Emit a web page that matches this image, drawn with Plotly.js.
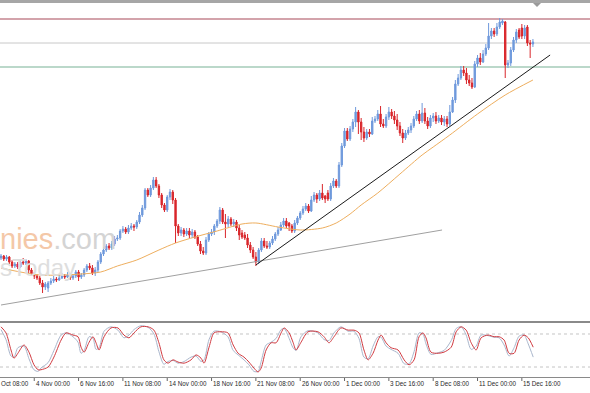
<!DOCTYPE html>
<html>
<head>
<meta charset="utf-8">
<script src="https://cdn.plot.ly/plotly-3.0.1.min.js"></script>
<style>html,body{margin:0;padding:0;background:#fff;}#chart{width:590px;height:393px;}</style>
</head>
<body>
<div id="chart"></div>
<script>
// ---- DATA (price units, one bar per 4 hours) ----
const openP  = [142,144,141,143,138,134,136,133,138,137,139,130,126,124,122,117,113,112,117,119,121,120,122,124,123,125,122,124,128,123,125,130,134,132,127,130,138,146,150,154,152,156,161,162,169,171,168,172,174,173,178,185,192,210,205,212,220,214,205,195,190,203,208,200,174,167,170,166,169,165,168,163,156,149,147,160,166,168,174,179,190,178,176,181,176,178,172,167,165,162,155,150,143,138,150,159,154,153,157,161,166,170,175,179,177,174,169,177,182,187,191,194,189,200,205,201,207,204,207,201,214,219,214,235,254,269,261,271,278,288,278,268,262,268,266,279,281,286,276,274,283,288,284,280,274,267,262,267,270,274,281,286,279,287,279,274,282,284,279,282,278,281,276,288,300,316,322,330,327,320,317,313,336,342,338,346,352,364,369,366,373,377,378,335,337,350,360,370,372,364,373,357,356];
const highP  = [146,145,145,144,140,138,138,140,142,141,140,132,128,126,124,120,118,119,122,124,123,125,127,126,128,127,126,130,130,127,132,136,137,135,133,140,148,153,156,157,159,164,165,171,174,173,175,177,176,180,188,195,212,212,215,223,223,216,207,197,205,211,210,202,176,173,172,172,172,171,170,165,159,153,163,168,171,176,181,193,192,186,184,183,181,180,175,170,168,166,158,153,148,152,162,162,159,159,164,168,173,178,182,182,178,176,180,184,189,194,197,196,204,208,207,210,216,205,210,217,222,221,238,257,272,272,274,281,293,290,282,273,271,271,283,284,290,294,281,286,293,291,289,286,278,271,270,273,277,284,289,290,297,292,283,285,287,288,285,285,284,284,295,303,320,326,334,334,332,325,322,339,345,347,350,356,377,372,372,377,382,381,379,340,353,363,371,372,376,375,375,360,361];
const lowP   = [140,139,139,136,132,132,131,132,135,135,127,124,121,120,115,107,110,108,115,117,118,119,121,121,122,120,120,122,119,121,123,128,130,125,124,128,136,144,148,150,150,154,159,160,167,166,166,170,169,171,176,183,190,203,203,210,212,202,192,188,188,200,196,157,164,164,163,164,162,162,161,154,146,145,145,158,164,165,172,176,176,162,173,174,173,169,160,161,160,152,147,141,134,136,148,152,151,151,155,159,164,169,173,172,169,167,167,175,180,185,189,187,188,198,197,199,200,197,199,199,212,212,212,233,252,259,259,268,273,266,260,258,260,263,265,277,279,273,272,272,280,281,276,270,264,257,260,265,267,272,279,276,277,276,271,272,278,276,277,275,274,273,274,287,297,314,320,324,316,314,311,312,333,335,337,344,350,361,363,364,371,375,322,332,334,348,357,361,361,361,354,342,353];
const closeP = [144,141,143,138,134,136,133,138,137,139,130,126,124,122,117,113,116,117,119,121,120,122,124,123,125,122,124,128,123,125,130,134,132,127,130,138,146,150,154,152,156,161,162,169,171,168,172,174,173,178,185,192,210,205,212,220,214,205,195,190,203,208,200,174,167,170,166,169,165,168,163,156,149,147,160,166,168,174,179,190,178,176,181,176,178,172,165,163,162,155,150,143,138,150,159,154,153,157,161,166,170,175,179,174,174,169,177,182,187,191,194,189,200,205,201,207,202,201,201,214,219,214,235,254,269,261,271,278,288,278,268,262,268,266,279,281,286,276,274,283,288,284,280,274,267,262,267,270,274,281,286,279,287,279,274,282,284,279,282,278,281,276,288,300,316,322,330,327,320,317,313,336,342,338,346,352,364,369,366,373,378,379,335,337,350,360,368,363,364,372,357,356,358];

// moving average
const maBar = [0,7,14,22,29,36,42,49,57,63,70,78,87,92,100,108,116,121,126,130,136,144,152,156,162,172,182,192];
const maVal = [132,128,125,125,126,128,134,140,150,157,163,169,176,177,173,170,172,177,186,195,207,226,245,253,265,286,305,320];

// stochastic oscillator
const stBar = [0,1.8,3.6,4.7,6.1,8.3,10.1,11.9,13.4,14.4,17,19.1,21.7,23.5,26,27.8,28.9,30,31.8,33.2,34.3,35.4,37.2,39.7,42.2,44.4,46.2,48,50.5,53.1,55.2,57,58.8,60.3,62.1,63.9,66.1,68.6,70.4,72.2,73.3,75.1,76.9,79.4,81.9,83.8,85.6,87.7,89.5,91.3,92.8,93.9,95.7,97.5,99.3,101.1,102.2,104,105.4,106.5,108.3,110.8,114.4,116.6,118.4,120.2,122.7,125.3,127.4,129.2,131,132.5,134.3,136.1,137.2,139,140.8,143.3,145.5,147.3,149.1,150.9,152.3,153.4,155.2,157.8,159.9,162.5,164.3,166.1,167.9,169.7,171.5,173.3,175.8,178,179.8,181.6,183.4,185.2,187,188.8,190.3,192.1];
const stMain = [93,82,51,36,45,60,47,24,15,15,20,38,69,82,78,75,56,47,65,75,64,51,75,91,91,78,73,82,93,93,87,64,33,27,33,29,27,33,42,36,27,56,82,84,82,60,45,38,29,18,11,18,51,64,64,82,91,82,65,51,65,84,84,75,64,75,91,87,87,82,51,33,45,69,78,64,55,51,33,24,33,75,82,73,47,45,47,56,84,93,87,64,51,73,78,75,75,69,45,45,69,78,73,56];
const stSignal = [88,70,40,38,55,58,35,15,12,18,28,50,78,82,75,65,45,50,75,72,52,55,85,93,87,73,78,88,95,92,80,48,25,30,32,27,30,38,40,30,33,70,85,84,75,50,42,33,24,12,12,30,60,65,72,88,90,72,55,50,75,86,82,70,68,82,93,85,85,72,38,35,58,75,74,58,52,45,26,26,48,82,80,62,43,46,50,68,90,93,78,52,58,78,77,74,73,60,40,55,76,78,62,38];

// levels and trend lines
const hLevels = [381, 357, 333];
const trendUp = {bar: [92, 198.2], price: [135, 345]};
const trendLong = {bar: [0, 159.2], price: [95, 170]};

// time axis labels (first one is cut by the window edge in the original)
const tickBars = [-4,12,28,44,60,76,92,108,124,140,156,172,188];
const tickText = ["Oct 08:00","4 Nov 00:00","6 Nov 16:00","11 Nov 08:00","14 Nov 00:00","18 Nov 16:00","21 Nov 08:00","26 Nov 00:00","1 Dec 00:00","3 Dec 16:00","8 Dec 08:00","11 Dec 00:00","15 Dec 16:00"];

const bars = openP.map((_, i) => i);

const traces = [
  {type:'scatter', mode:'lines', x:trendLong.bar, y:trendLong.price, line:{color:'#a0a0a0', width:1}, hoverinfo:'skip', xaxis:'x', yaxis:'y'},
  {type:'scatter', mode:'lines', x:maBar, y:maVal, line:{color:'#eeae5e', width:1, shape:'spline', smoothing:0.8}, hoverinfo:'skip', xaxis:'x', yaxis:'y'},
  {type:'candlestick', x:bars, open:openP, high:highP, low:lowP, close:closeP,
   increasing:{line:{color:'#6f99dc', width:1}, fillcolor:'#6f99dc'},
   decreasing:{line:{color:'#d9262b', width:1}, fillcolor:'#d9262b'},
   whiskerwidth:0, hoverinfo:'skip', xaxis:'x', yaxis:'y'},
  {type:'scatter', mode:'lines', x:trendUp.bar, y:trendUp.price, line:{color:'#1a1a1a', width:1}, hoverinfo:'skip', xaxis:'x', yaxis:'y'},
  {type:'scatter', mode:'lines', x:stBar, y:stSignal, line:{color:'#a9b6cc', width:1, shape:'spline', smoothing:0.8}, hoverinfo:'skip', xaxis:'x', yaxis:'y2'},
  {type:'scatter', mode:'lines', x:stBar, y:stMain, line:{color:'#d13a40', width:1, shape:'spline', smoothing:0.8}, hoverinfo:'skip', xaxis:'x', yaxis:'y2'}
];

const px2paper = y => (378 - y) / 378;
const shapes = [];
const hColors = ['#c4848f', '#c8c8c8', '#78b295'];
const hWidths = [1.6, 1, 1.2];
hLevels.forEach((v, k) => shapes.push({type:'line', xref:'paper', x0:0, x1:1, yref:'y', y0:v, y1:v, line:{color:hColors[k], width:hWidths[k]}, layer:'below'}));
[80, 20].forEach(v => shapes.push({type:'line', xref:'paper', x0:0, x1:1, yref:'y2', y0:v, y1:v, line:{color:'#c4c4c4', width:1, dash:'dot'}, layer:'below'}));
// window borders
shapes.push({type:'rect', xref:'paper', x0:0, x1:1, yref:'paper', y0:px2paper(3), y1:px2paper(0), fillcolor:'#a6a6a6', line:{width:0}});
shapes.push({type:'rect', xref:'paper', x0:0, x1:1, yref:'paper', y0:px2paper(323), y1:px2paper(321), fillcolor:'#8a8a8a', line:{width:0}});
shapes.push({type:'line', xref:'paper', x0:0, x1:1, yref:'paper', y0:px2paper(377.5), y1:px2paper(377.5), line:{color:'#8a8a8a', width:1}});
shapes.push({type:'path', xref:'paper', yref:'paper', path:`M ${533/590} ${px2paper(3)} L ${541/590} ${px2paper(3)} L ${537/590} ${px2paper(7)} Z`, fillcolor:'#9a9a9a', line:{width:0}});
tickBars.slice(1).forEach(b => shapes.push({type:'line', xref:'x', x0:b, x1:b, yref:'paper', y0:px2paper(378), y1:px2paper(381), line:{color:'#666', width:1}}));

const labelFont = {family:'Liberation Sans, Arial, sans-serif', size:6.3, color:'#2a2a2a'};
const annotations = tickText.slice(1).map((t, k) => ({
  xref:'x', x:tickBars[k + 1], xanchor:'left', xshift:-0.5, yref:'paper', y:px2paper(383.5), yanchor:'middle',
  text:t, showarrow:false, font:labelFont
}));
annotations.push({xref:'paper', x:0, xanchor:'left', xshift:-1, yref:'paper', y:px2paper(383.5), yanchor:'middle', text:tickText[0], showarrow:false, font:labelFont});
// faint watermark (left part cut by the window edge in the original)
annotations.push({xref:'paper', x:0, xanchor:'left', xshift:-2, yref:'paper', y:px2paper(239), yanchor:'middle', showarrow:false,
  text:'<span style="color:#f4c8a8">nies</span><span style="color:#d4d4d4">.com</span>', font:{family:'Liberation Sans, Arial, sans-serif', size:29}});
annotations.push({xref:'paper', x:0, xanchor:'left', xshift:-2, yref:'paper', y:px2paper(267), yanchor:'middle', showarrow:false,
  text:'<span style="color:#dedede">sToday</span>', font:{family:'Liberation Sans, Arial, sans-serif', size:24}});

const layout = {
  width:590, height:393, margin:{l:0, r:0, t:0, b:15},
  paper_bgcolor:'#ffffff', plot_bgcolor:'#ffffff', showlegend:false, hovermode:false,
  xaxis:{range:[-0.36, 212.6], showgrid:false, zeroline:false, showticklabels:false, ticks:'', showline:false, rangeslider:{visible:false}, anchor:'y2', fixedrange:true},
  yaxis:{domain:[px2paper(318), px2paper(4)], range:[82, 396], showgrid:false, zeroline:false, showticklabels:false, ticks:'', fixedrange:true},
  yaxis2:{domain:[0, px2paper(322)], range:[0, 101.8], showgrid:false, zeroline:false, showticklabels:false, ticks:'', fixedrange:true},
  shapes:shapes, annotations:annotations
};

Plotly.newPlot('chart', traces, layout, {staticPlot:true, displayModeBar:false});
</script>
</body>
</html>
